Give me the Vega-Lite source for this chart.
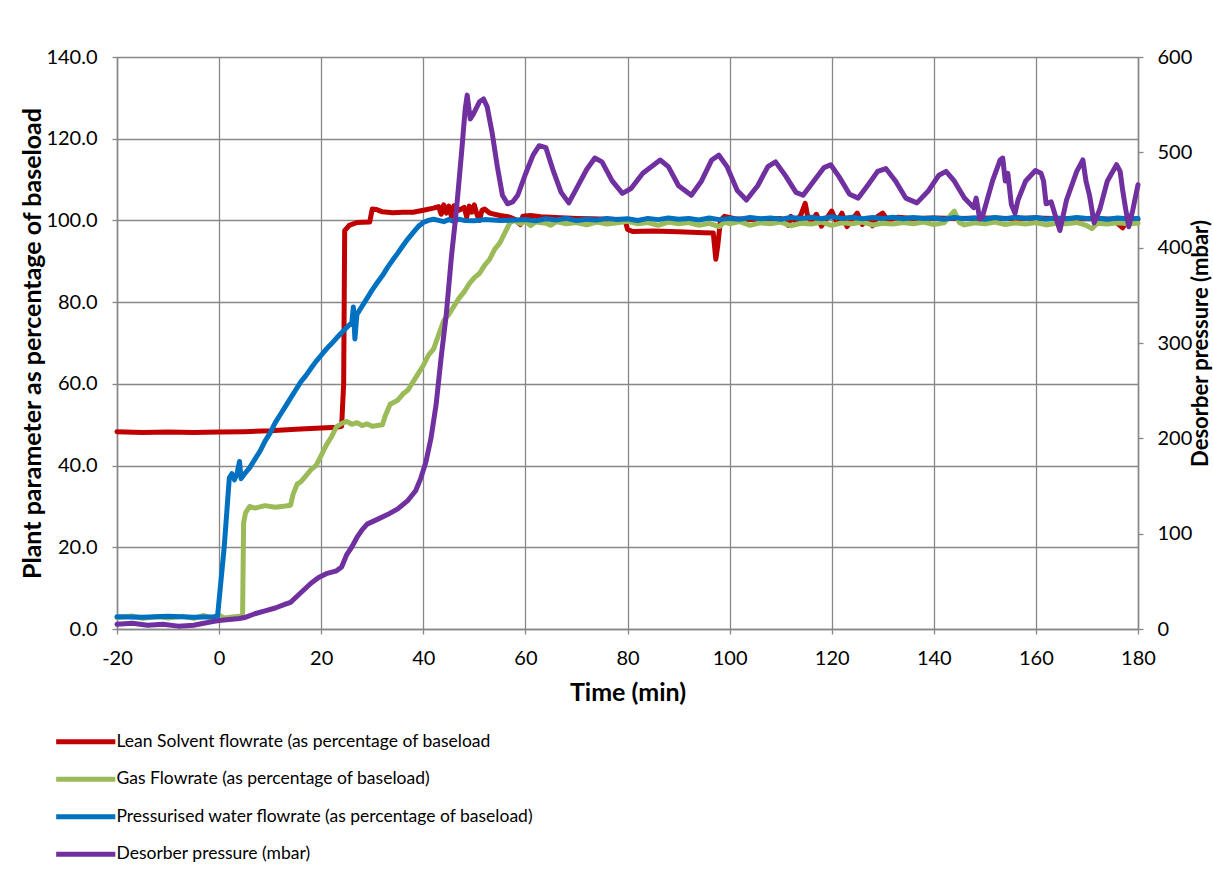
{
  "$schema": "https://vega.github.io/schema/vega-lite/v6.json",
  "width": 1021,
  "height": 572,
  "autosize": {"type": "none"},
  "padding": {"left": 117, "top": 57, "right": 75, "bottom": 241},
  "background": "white",
  "config": {
    "view": {"stroke": null},
    "font": "Lato",
    "axis": {
      "gridColor": "#878787", "gridWidth": 1.3, "gridOpacity": 1,
      "domainColor": "#878787", "domainWidth": 1.5,
      "tickColor": "#878787", "tickWidth": 1.3, "tickSize": 5,
      "labelColor": "#000000", "labelFont": "Lato", "labelFontSize": 20,
      "titleColor": "#000000", "titleFont": "Lato", "titleFontWeight": "bold", "titleFontSize": 25
    },
    "legend": {"labelFont": "Lato", "labelFontSize": 17.5, "labelColor": "#000000", "labelLimit": 0}
  },
  "datasets": {
    "lean": [
      {"t": -20, "v": 48.3}, {"t": -15, "v": 48.1}, {"t": -10, "v": 48.2}, {"t": -5, "v": 48.1}, {"t": 0, "v": 48.2},
      {"t": 5, "v": 48.3}, {"t": 10, "v": 48.5}, {"t": 15, "v": 48.9}, {"t": 20, "v": 49.2}, {"t": 23, "v": 49.4},
      {"t": 24, "v": 49.6}, {"t": 24.4, "v": 60}, {"t": 24.6, "v": 97.5}, {"t": 25.5, "v": 98.8}, {"t": 27, "v": 99.5},
      {"t": 29.5, "v": 99.6}, {"t": 30, "v": 102.8}, {"t": 31, "v": 102.6}, {"t": 32, "v": 102.1}, {"t": 34, "v": 101.9},
      {"t": 36, "v": 102}, {"t": 38, "v": 102}, {"t": 40, "v": 102.5}, {"t": 42, "v": 103}, {"t": 43, "v": 103.4},
      {"t": 43.5, "v": 101.5}, {"t": 44, "v": 103.8}, {"t": 44.5, "v": 101.8}, {"t": 45, "v": 103.5}, {"t": 45.5, "v": 101},
      {"t": 46, "v": 103.6}, {"t": 47, "v": 102.5}, {"t": 48, "v": 103.2}, {"t": 48.5, "v": 100.8}, {"t": 49, "v": 103.5},
      {"t": 49.5, "v": 102}, {"t": 50, "v": 103.8}, {"t": 50.5, "v": 101.5}, {"t": 51, "v": 100}, {"t": 51.5, "v": 102.5},
      {"t": 52, "v": 102.8}, {"t": 53, "v": 101.8}, {"t": 55, "v": 101.2}, {"t": 57, "v": 100.8}, {"t": 58, "v": 100.2},
      {"t": 59, "v": 99}, {"t": 59.5, "v": 101}, {"t": 61, "v": 101.2}, {"t": 63, "v": 100.9}, {"t": 65, "v": 100.8},
      {"t": 68, "v": 100.6}, {"t": 70, "v": 100.5}, {"t": 73, "v": 100.4}, {"t": 76, "v": 100.3}, {"t": 79.5, "v": 100.2},
      {"t": 80, "v": 97.8}, {"t": 81, "v": 97.3}, {"t": 85, "v": 97.4}, {"t": 90, "v": 97.2}, {"t": 95, "v": 97},
      {"t": 96.8, "v": 96.9}, {"t": 97.3, "v": 90.5}, {"t": 97.7, "v": 94}, {"t": 98.2, "v": 100}, {"t": 99, "v": 101},
      {"t": 101, "v": 100.4}, {"t": 104, "v": 100.2}, {"t": 107, "v": 100.3}, {"t": 110, "v": 100.5}, {"t": 111.5, "v": 98.8},
      {"t": 112, "v": 101}, {"t": 113, "v": 99.5}, {"t": 114, "v": 101.5}, {"t": 114.8, "v": 104.2}, {"t": 115.3, "v": 101},
      {"t": 116, "v": 99.8}, {"t": 117, "v": 101.5}, {"t": 118, "v": 98.6}, {"t": 119, "v": 100.5}, {"t": 120, "v": 102.3},
      {"t": 121, "v": 99.5}, {"t": 122, "v": 101.8}, {"t": 123, "v": 98.5}, {"t": 124, "v": 100.2}, {"t": 125, "v": 101.8},
      {"t": 126, "v": 99}, {"t": 127, "v": 100.5}, {"t": 128, "v": 98.7}, {"t": 129, "v": 101}, {"t": 130, "v": 101.8},
      {"t": 131, "v": 100}, {"t": 133, "v": 100.8}, {"t": 136, "v": 100.5}, {"t": 140, "v": 100.6}, {"t": 145, "v": 100.5},
      {"t": 150, "v": 100.6}, {"t": 155, "v": 100.5}, {"t": 160, "v": 100.6}, {"t": 165, "v": 100.4}, {"t": 170, "v": 100.5},
      {"t": 175, "v": 100.3}, {"t": 177, "v": 98.2}, {"t": 178, "v": 100.2}, {"t": 180, "v": 100.3}
    ],
    "gas": [
      {"t": -20, "v": 2.8}, {"t": -17, "v": 3.2}, {"t": -15, "v": 2.6}, {"t": -12, "v": 3}, {"t": -10, "v": 2.7},
      {"t": -7, "v": 3.1}, {"t": -5, "v": 2.6}, {"t": -3, "v": 3.3}, {"t": -1, "v": 2.5}, {"t": 0, "v": 3.4},
      {"t": 1, "v": 2.7}, {"t": 3, "v": 3}, {"t": 4.6, "v": 3.2}, {"t": 4.8, "v": 26}, {"t": 5.2, "v": 28.5},
      {"t": 6, "v": 30}, {"t": 7, "v": 29.6}, {"t": 9, "v": 30.2}, {"t": 11, "v": 29.8}, {"t": 13, "v": 30.1},
      {"t": 14, "v": 30.3}, {"t": 14.5, "v": 33}, {"t": 15.3, "v": 35.5}, {"t": 16, "v": 36}, {"t": 17, "v": 37.5},
      {"t": 18, "v": 39}, {"t": 19, "v": 40}, {"t": 20, "v": 42.5}, {"t": 21, "v": 45}, {"t": 22, "v": 47},
      {"t": 23, "v": 49.5}, {"t": 24, "v": 50.3}, {"t": 25, "v": 50.8}, {"t": 26, "v": 50.1}, {"t": 27, "v": 50.5},
      {"t": 28, "v": 49.8}, {"t": 29, "v": 50.2}, {"t": 30, "v": 49.6}, {"t": 31, "v": 49.8}, {"t": 32, "v": 50},
      {"t": 32.5, "v": 52}, {"t": 33.5, "v": 55}, {"t": 35, "v": 56}, {"t": 36, "v": 57.5}, {"t": 37, "v": 58.5},
      {"t": 38, "v": 60.5}, {"t": 39, "v": 62.5}, {"t": 40, "v": 64.5}, {"t": 41, "v": 67}, {"t": 42, "v": 68.5},
      {"t": 43, "v": 72}, {"t": 44, "v": 75.5}, {"t": 45, "v": 77}, {"t": 46, "v": 79}, {"t": 47, "v": 81},
      {"t": 48, "v": 82.5}, {"t": 49, "v": 84.5}, {"t": 50, "v": 86}, {"t": 51, "v": 87}, {"t": 52, "v": 89},
      {"t": 53, "v": 90.5}, {"t": 54, "v": 93}, {"t": 55, "v": 94.5}, {"t": 56, "v": 97}, {"t": 57, "v": 99.5},
      {"t": 58, "v": 100}, {"t": 59, "v": 99.2}, {"t": 60, "v": 99.8}, {"t": 61, "v": 98.7}, {"t": 62, "v": 99.6},
      {"t": 64, "v": 99.3}, {"t": 65, "v": 98.8}, {"t": 66, "v": 99.7}, {"t": 68, "v": 99.2}, {"t": 70, "v": 99.5},
      {"t": 72, "v": 98.9}, {"t": 74, "v": 99.6}, {"t": 76, "v": 99.1}, {"t": 78, "v": 99.4}, {"t": 80, "v": 99.8},
      {"t": 82, "v": 99.2}, {"t": 84, "v": 99.5}, {"t": 86, "v": 98.8}, {"t": 88, "v": 99.6}, {"t": 90, "v": 99.2},
      {"t": 92, "v": 99.5}, {"t": 94, "v": 98.8}, {"t": 96, "v": 99.3}, {"t": 98, "v": 98.5}, {"t": 99, "v": 99.6},
      {"t": 100, "v": 99.2}, {"t": 102, "v": 99.7}, {"t": 104, "v": 98.8}, {"t": 106, "v": 99.4}, {"t": 108, "v": 99.2},
      {"t": 110, "v": 99.6}, {"t": 112, "v": 98.7}, {"t": 114, "v": 99.3}, {"t": 116, "v": 99.1}, {"t": 118, "v": 99.6},
      {"t": 120, "v": 98.8}, {"t": 122, "v": 99.4}, {"t": 124, "v": 99.2}, {"t": 126, "v": 99.6}, {"t": 128, "v": 98.9},
      {"t": 130, "v": 99.3}, {"t": 132, "v": 99.1}, {"t": 134, "v": 99.5}, {"t": 136, "v": 99.2}, {"t": 138, "v": 99.6},
      {"t": 140, "v": 99}, {"t": 142, "v": 99.4}, {"t": 144, "v": 102.3}, {"t": 145, "v": 99.5}, {"t": 146, "v": 98.9},
      {"t": 148, "v": 99.4}, {"t": 150, "v": 99.2}, {"t": 152, "v": 99.6}, {"t": 154, "v": 99}, {"t": 156, "v": 99.4},
      {"t": 158, "v": 99.1}, {"t": 160, "v": 99.5}, {"t": 162, "v": 98.9}, {"t": 164, "v": 99.3}, {"t": 166, "v": 99.2},
      {"t": 168, "v": 99.5}, {"t": 170, "v": 98.7}, {"t": 171, "v": 98}, {"t": 172, "v": 99.3}, {"t": 174, "v": 99.1},
      {"t": 176, "v": 99.4}, {"t": 178, "v": 99.2}, {"t": 180, "v": 99.3}
    ],
    "water": [
      {"t": -20, "v": 3}, {"t": -15, "v": 2.9}, {"t": -10, "v": 3.1}, {"t": -5, "v": 2.9}, {"t": -1, "v": 3},
      {"t": -0.3, "v": 3.2}, {"t": 1, "v": 20}, {"t": 2, "v": 37}, {"t": 2.5, "v": 38}, {"t": 3, "v": 36.5},
      {"t": 3.5, "v": 38}, {"t": 4, "v": 41}, {"t": 4.3, "v": 36.8}, {"t": 5, "v": 38}, {"t": 6, "v": 39.5},
      {"t": 7, "v": 41.5}, {"t": 8, "v": 43.5}, {"t": 9, "v": 46}, {"t": 10, "v": 48}, {"t": 11, "v": 50.5},
      {"t": 12, "v": 52.5}, {"t": 13, "v": 54.5}, {"t": 14, "v": 56.5}, {"t": 15, "v": 58.5}, {"t": 16, "v": 60.5},
      {"t": 17, "v": 62}, {"t": 18, "v": 63.8}, {"t": 19, "v": 65.5}, {"t": 20, "v": 67}, {"t": 21, "v": 68.5},
      {"t": 22, "v": 69.8}, {"t": 23, "v": 71.2}, {"t": 24, "v": 72.5}, {"t": 25, "v": 73.8}, {"t": 26, "v": 75},
      {"t": 26.3, "v": 78.8}, {"t": 26.6, "v": 71}, {"t": 27, "v": 77}, {"t": 28, "v": 79}, {"t": 29, "v": 81},
      {"t": 30, "v": 83}, {"t": 31, "v": 84.8}, {"t": 32, "v": 86.5}, {"t": 33, "v": 88.5}, {"t": 34, "v": 90.3},
      {"t": 35, "v": 92}, {"t": 36, "v": 93.8}, {"t": 37, "v": 95.5}, {"t": 38, "v": 97}, {"t": 39, "v": 98.5},
      {"t": 40, "v": 99.5}, {"t": 41, "v": 100}, {"t": 42, "v": 100.3}, {"t": 43, "v": 100}, {"t": 44, "v": 99.7},
      {"t": 45, "v": 100.2}, {"t": 46, "v": 99.8}, {"t": 47, "v": 100.3}, {"t": 48, "v": 100}, {"t": 50, "v": 99.9},
      {"t": 52, "v": 100.2}, {"t": 55, "v": 100}, {"t": 58, "v": 100.1}, {"t": 60, "v": 100.2}, {"t": 62, "v": 99.9},
      {"t": 64, "v": 100.4}, {"t": 66, "v": 100.1}, {"t": 68, "v": 100.5}, {"t": 70, "v": 100}, {"t": 72, "v": 100.3},
      {"t": 74, "v": 100.1}, {"t": 76, "v": 100.5}, {"t": 78, "v": 100.2}, {"t": 80, "v": 100.4}, {"t": 82, "v": 100},
      {"t": 84, "v": 100.5}, {"t": 86, "v": 100.2}, {"t": 88, "v": 100.6}, {"t": 90, "v": 100.3}, {"t": 92, "v": 100.5},
      {"t": 94, "v": 100.1}, {"t": 96, "v": 100.6}, {"t": 98, "v": 100.2}, {"t": 100, "v": 100.5}, {"t": 102, "v": 100.3},
      {"t": 104, "v": 100.7}, {"t": 106, "v": 100.4}, {"t": 108, "v": 100.6}, {"t": 110, "v": 100.3}, {"t": 112, "v": 100.7},
      {"t": 114, "v": 100.5}, {"t": 116, "v": 100.8}, {"t": 118, "v": 100.4}, {"t": 120, "v": 100.9}, {"t": 122, "v": 100.5},
      {"t": 124, "v": 100.8}, {"t": 126, "v": 100.4}, {"t": 128, "v": 100.7}, {"t": 130, "v": 100.5}, {"t": 132, "v": 100.8},
      {"t": 134, "v": 100.4}, {"t": 136, "v": 100.7}, {"t": 138, "v": 100.5}, {"t": 140, "v": 100.6}, {"t": 142, "v": 100.3},
      {"t": 144, "v": 100.7}, {"t": 146, "v": 100.4}, {"t": 148, "v": 100.6}, {"t": 150, "v": 100.3}, {"t": 152, "v": 100.7},
      {"t": 154, "v": 100.4}, {"t": 156, "v": 100.8}, {"t": 158, "v": 100.5}, {"t": 160, "v": 100.7}, {"t": 162, "v": 100.3},
      {"t": 164, "v": 100.6}, {"t": 166, "v": 100.4}, {"t": 168, "v": 100.7}, {"t": 170, "v": 100.5}, {"t": 172, "v": 100.6},
      {"t": 174, "v": 100.3}, {"t": 176, "v": 100.6}, {"t": 178, "v": 100.4}, {"t": 180, "v": 100.5}
    ],
    "pressure": [
      {"t": -20, "v": 5}, {"t": -17, "v": 6}, {"t": -14, "v": 4}, {"t": -11, "v": 5}, {"t": -8, "v": 3},
      {"t": -5, "v": 4}, {"t": -3, "v": 6}, {"t": -1, "v": 8}, {"t": 0, "v": 9}, {"t": 2, "v": 10},
      {"t": 4, "v": 11}, {"t": 5, "v": 12}, {"t": 7, "v": 16}, {"t": 9, "v": 19}, {"t": 11, "v": 22},
      {"t": 13, "v": 26}, {"t": 14, "v": 28}, {"t": 16, "v": 38}, {"t": 18, "v": 48}, {"t": 19.5, "v": 54},
      {"t": 21, "v": 58}, {"t": 23, "v": 61}, {"t": 24, "v": 65}, {"t": 25, "v": 78}, {"t": 26, "v": 86},
      {"t": 27, "v": 96}, {"t": 28, "v": 104}, {"t": 29, "v": 110}, {"t": 31, "v": 115}, {"t": 33, "v": 120},
      {"t": 35, "v": 126}, {"t": 37, "v": 135}, {"t": 38.5, "v": 145}, {"t": 39.5, "v": 158}, {"t": 40.5, "v": 175},
      {"t": 41.5, "v": 200}, {"t": 42.5, "v": 235}, {"t": 43.5, "v": 285}, {"t": 44.5, "v": 330}, {"t": 45.5, "v": 390},
      {"t": 46.5, "v": 440}, {"t": 47.5, "v": 500}, {"t": 48.2, "v": 545}, {"t": 48.6, "v": 560}, {"t": 49.2, "v": 535},
      {"t": 49.8, "v": 540}, {"t": 51, "v": 553}, {"t": 51.8, "v": 556}, {"t": 52.5, "v": 548}, {"t": 53.5, "v": 520},
      {"t": 54.5, "v": 485}, {"t": 55.5, "v": 455}, {"t": 56.5, "v": 446}, {"t": 57.5, "v": 448}, {"t": 58.5, "v": 455},
      {"t": 60, "v": 477}, {"t": 61.5, "v": 497}, {"t": 62.7, "v": 507}, {"t": 64, "v": 505}, {"t": 65.5, "v": 480},
      {"t": 67, "v": 458}, {"t": 68.5, "v": 447}, {"t": 70, "v": 462}, {"t": 72, "v": 482}, {"t": 73.6, "v": 494},
      {"t": 75, "v": 490}, {"t": 77, "v": 470}, {"t": 79, "v": 457}, {"t": 80.7, "v": 462}, {"t": 83, "v": 478},
      {"t": 86.4, "v": 492}, {"t": 88, "v": 485}, {"t": 90, "v": 465}, {"t": 92.5, "v": 455}, {"t": 94.5, "v": 470},
      {"t": 96.5, "v": 492}, {"t": 97.9, "v": 497}, {"t": 99.5, "v": 485}, {"t": 101.5, "v": 460}, {"t": 103.3, "v": 450},
      {"t": 105.5, "v": 465}, {"t": 107.5, "v": 485}, {"t": 109, "v": 490}, {"t": 111, "v": 475}, {"t": 113, "v": 458},
      {"t": 114.4, "v": 455}, {"t": 116.5, "v": 470}, {"t": 118.5, "v": 484}, {"t": 119.8, "v": 487}, {"t": 121.5, "v": 474},
      {"t": 123.5, "v": 456}, {"t": 125.2, "v": 452}, {"t": 127, "v": 465}, {"t": 129, "v": 480}, {"t": 130.6, "v": 483},
      {"t": 132.5, "v": 470}, {"t": 134.5, "v": 452}, {"t": 136.7, "v": 447}, {"t": 139, "v": 460}, {"t": 141, "v": 476},
      {"t": 142.4, "v": 480}, {"t": 144, "v": 470}, {"t": 146, "v": 452}, {"t": 147.8, "v": 442}, {"t": 148.3, "v": 452},
      {"t": 149, "v": 430}, {"t": 149.5, "v": 432}, {"t": 151.5, "v": 470}, {"t": 153, "v": 492}, {"t": 153.5, "v": 494},
      {"t": 154, "v": 470}, {"t": 154.5, "v": 478}, {"t": 155.2, "v": 445}, {"t": 155.9, "v": 436}, {"t": 156.5, "v": 450},
      {"t": 158, "v": 470}, {"t": 159.9, "v": 481}, {"t": 161, "v": 478}, {"t": 161.5, "v": 470}, {"t": 162, "v": 446},
      {"t": 163, "v": 448}, {"t": 164, "v": 430}, {"t": 164.7, "v": 418}, {"t": 166, "v": 450}, {"t": 168, "v": 480},
      {"t": 169.2, "v": 492}, {"t": 169.8, "v": 470}, {"t": 170.5, "v": 455}, {"t": 171.4, "v": 426}, {"t": 172.5, "v": 440},
      {"t": 174, "v": 470}, {"t": 175.8, "v": 487}, {"t": 176.5, "v": 480}, {"t": 177, "v": 460}, {"t": 177.6, "v": 440},
      {"t": 178.2, "v": 422}, {"t": 179, "v": 440}, {"t": 180, "v": 466}
    ]
  },
  "encoding": {
    "x": {
      "field": "t", "type": "quantitative",
      "scale": {"domain": [-20, 180], "nice": false, "zero": false},
      "axis": {
        "values": [-20, 0, 20, 40, 60, 80, 100, 120, 140, 160, 180],
        "labelExpr": "datum.value < 0 ? '-' + abs(datum.value) : '' + datum.value",
        "grid": true, "labelPadding": 14, "labelFlush": false,
        "title": "Time (min)", "titlePadding": 12
      }
    }
  },
  "layer": [
    {
      "encoding": {
        "y": {
          "field": "v", "type": "quantitative",
          "scale": {"domain": [0, 140], "nice": false},
          "axis": {
            "orient": "left",
            "values": [0, 20, 40, 60, 80, 100, 120, 140],
            "format": ".1f", "grid": true, "labelPadding": 15,
            "title": "Plant parameter as percentage of baseload",
            "titleAngle": 270, "titleBaseline": "middle", "titleAlign": "center",
            "titleX": -85, "titleY": 286
          }
        }
      },
      "layer": [
        {
          "data": {"name": "lean"},
          "mark": {"type": "line", "strokeWidth": 5, "strokeJoin": "round", "strokeCap": "round"},
          "encoding": {
            "color": {
              "datum": "Lean Solvent flowrate (as percentage of baseload",
              "type": "nominal",
              "scale": {
                "domain": ["Lean Solvent flowrate (as percentage of baseload", "Gas Flowrate (as percentage of baseload)", "Pressurised water flowrate (as percentage of baseload)", "Desorber pressure (mbar)"],
                "range": ["#C00000", "#9BBB59", "#0070C0", "#7030A0"]
              },
              "legend": {
                "orient": "none", "direction": "vertical", "title": null,
                "legendX": -40, "legendY": 676, "padding": 0,
                "symbolType": "M-5,0H5", "symbolSize": 140, "symbolStrokeWidth": 5,
                "labelOffset": 22, "rowPadding": 16.5, "labelFontSize": 17.5, "labelLimit": 0
              }
            }
          }
        },
        {
          "data": {"name": "gas"},
          "mark": {"type": "line", "strokeWidth": 5, "strokeJoin": "round", "strokeCap": "round"},
          "encoding": {"color": {"datum": "Gas Flowrate (as percentage of baseload)", "type": "nominal"}}
        },
        {
          "data": {"name": "water"},
          "mark": {"type": "line", "strokeWidth": 5, "strokeJoin": "round", "strokeCap": "round"},
          "encoding": {"color": {"datum": "Pressurised water flowrate (as percentage of baseload)", "type": "nominal"}}
        }
      ]
    },
    {
      "data": {"name": "pressure"},
      "mark": {"type": "line", "strokeWidth": 5, "strokeJoin": "round", "strokeCap": "round"},
      "encoding": {
        "y": {
          "field": "v", "type": "quantitative",
          "scale": {"domain": [0, 600], "nice": false},
          "axis": {
            "orient": "right",
            "values": [0, 100, 200, 300, 400, 500, 600],
            "format": "d", "grid": false, "labelPadding": 14,
            "title": "Desorber pressure (mbar)",
            "titleAngle": 270, "titleBaseline": "middle", "titleAlign": "center",
            "titleX": 62, "titleY": 286, "titleFontSize": 22
          }
        },
        "color": {"datum": "Desorber pressure (mbar)", "type": "nominal"}
      }
    }
  ],
  "resolve": {"scale": {"y": "independent"}}
}
